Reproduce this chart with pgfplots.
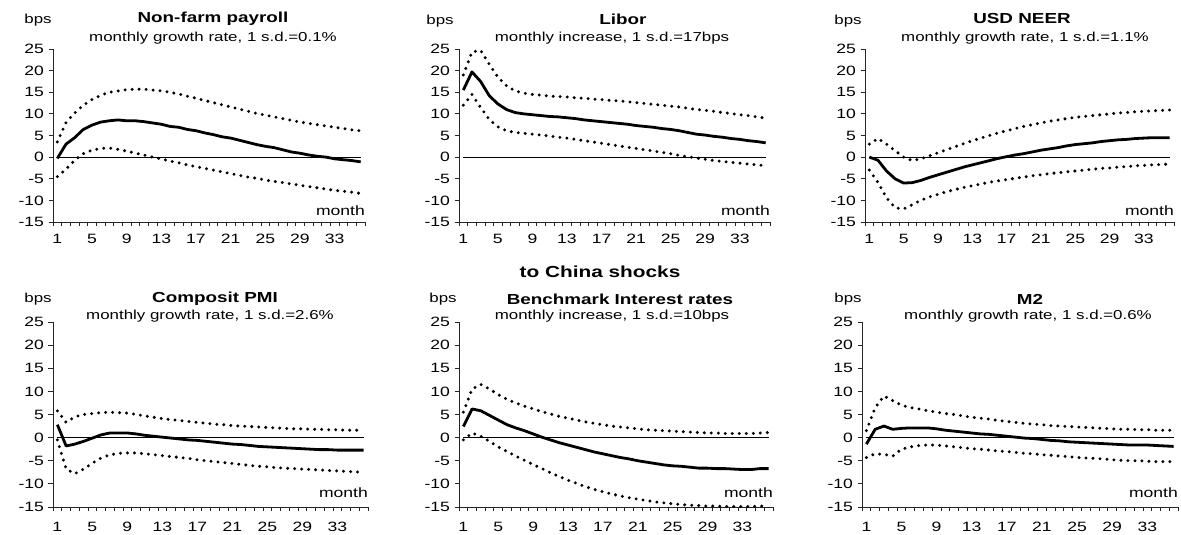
\documentclass[border=0pt]{standalone}
\usepackage{fontspec}
\setmainfont{Liberation Sans}[FakeStretch=1.3]
\usepackage{pgfplots}
\usepackage{pgfplotstable}
\pgfplotsset{compat=1.18}

% Non-farm payroll
\pgfplotstableread{
x m u l
1 -0.3 3.5 -4.5
2 3.0 8.0 -2.8
3 4.5 10.2 -0.7
4 6.4 12.0 0.8
5 7.4 13.3 1.6
6 8.1 14.3 2.0
7 8.4 15.0 2.1
8 8.6 15.3 1.8
9 8.4 15.6 1.4
10 8.4 15.7 0.9
11 8.2 15.7 0.5
12 7.9 15.5 0.0
13 7.6 15.3 -0.4
14 7.1 15.0 -0.9
15 6.9 14.6 -1.3
16 6.4 14.1 -1.8
17 6.1 13.6 -2.2
18 5.6 13.1 -2.6
19 5.2 12.6 -3.0
20 4.7 12.1 -3.4
21 4.4 11.6 -3.8
22 3.9 11.1 -4.2
23 3.4 10.6 -4.6
24 2.9 10.1 -4.9
25 2.5 9.7 -5.3
26 2.2 9.3 -5.6
27 1.7 8.9 -5.9
28 1.2 8.5 -6.2
29 0.9 8.1 -6.5
30 0.5 7.8 -6.8
31 0.2 7.5 -7.1
32 0.0 7.2 -7.4
33 -0.4 6.9 -7.7
34 -0.6 6.6 -7.9
35 -0.8 6.3 -8.1
36 -1.1 6.1 -8.4
}\tA

% Libor
\pgfplotstableread{
x m u l
1 15.5 19.0 12.0
2 19.7 24.3 14.5
3 17.5 24.7 11.5
4 14.2 21.5 8.7
5 12.3 18.5 7.0
6 11.0 16.5 6.1
7 10.3 15.3 5.7
8 10.0 14.8 5.5
9 9.8 14.5 5.3
10 9.6 14.3 5.1
11 9.4 14.1 4.9
12 9.3 14.0 4.6
13 9.1 13.9 4.4
14 8.9 13.7 4.1
15 8.6 13.6 3.8
16 8.4 13.4 3.5
17 8.2 13.3 3.2
18 8.0 13.1 2.9
19 7.8 13.0 2.6
20 7.6 12.8 2.3
21 7.3 12.6 2.0
22 7.1 12.4 1.7
23 6.9 12.2 1.4
24 6.6 12.0 1.1
25 6.4 11.8 0.8
26 6.1 11.6 0.4
27 5.7 11.3 0.1
28 5.3 11.0 -0.2
29 5.1 10.8 -0.5
30 4.8 10.6 -0.8
31 4.6 10.3 -1.0
32 4.3 10.1 -1.2
33 4.1 9.8 -1.4
34 3.8 9.6 -1.6
35 3.6 9.3 -1.8
36 3.3 9.0 -2.0
}\tB

% USD NEER
\pgfplotstableread{
x m u l
1 0.0 3.0 -3.0
2 -0.7 4.3 -5.8
3 -3.2 3.0 -9.4
4 -5.0 1.5 -11.7
5 -6.0 0.0 -12.0
6 -5.9 -0.8 -11.0
7 -5.4 -0.4 -10.0
8 -4.7 0.3 -9.2
9 -4.1 1.0 -8.6
10 -3.5 1.7 -8.0
11 -2.9 2.4 -7.5
12 -2.3 3.1 -7.0
13 -1.8 3.8 -6.6
14 -1.3 4.4 -6.2
15 -0.8 5.0 -5.8
16 -0.3 5.6 -5.5
17 0.1 6.1 -5.2
18 0.5 6.6 -4.9
19 0.8 7.1 -4.6
20 1.2 7.5 -4.3
21 1.6 7.9 -4.1
22 1.9 8.3 -3.8
23 2.2 8.6 -3.6
24 2.6 8.9 -3.4
25 2.9 9.2 -3.2
26 3.1 9.4 -3.0
27 3.3 9.6 -2.8
28 3.6 9.8 -2.6
29 3.8 10.0 -2.5
30 4.0 10.2 -2.3
31 4.1 10.3 -2.2
32 4.3 10.5 -2.0
33 4.4 10.6 -1.9
34 4.5 10.7 -1.8
35 4.5 10.8 -1.7
36 4.5 10.9 -1.6
}\tC

% Composit PMI
\pgfplotstableread{
x m u l
1 2.8 5.8 -0.5
2 -1.8 3.3 -6.8
3 -1.4 4.5 -7.8
4 -0.8 5.0 -6.8
5 -0.1 5.2 -5.5
6 0.6 5.4 -4.4
7 1.0 5.5 -3.7
8 1.0 5.4 -3.4
9 1.0 5.3 -3.3
10 0.8 5.0 -3.3
11 0.5 4.7 -3.5
12 0.3 4.4 -3.7
13 0.1 4.1 -3.9
14 -0.1 3.9 -4.1
15 -0.3 3.7 -4.3
16 -0.5 3.5 -4.5
17 -0.6 3.3 -4.8
18 -0.8 3.1 -5.0
19 -1.0 2.9 -5.2
20 -1.2 2.8 -5.4
21 -1.4 2.6 -5.6
22 -1.5 2.5 -5.8
23 -1.7 2.4 -6.0
24 -1.9 2.3 -6.2
25 -2.0 2.2 -6.3
26 -2.1 2.1 -6.5
27 -2.2 2.0 -6.6
28 -2.3 1.9 -6.7
29 -2.4 1.9 -6.8
30 -2.5 1.8 -6.9
31 -2.6 1.8 -7.0
32 -2.6 1.7 -7.1
33 -2.7 1.7 -7.2
34 -2.7 1.6 -7.3
35 -2.7 1.6 -7.4
36 -2.7 1.6 -7.5
}\tD

% Benchmark interest rates
\pgfplotstableread{
x m u l
1 2.4 5.5 -0.5
2 6.2 10.5 1.0
3 5.8 11.5 0.3
4 4.8 10.5 -0.8
5 3.8 9.3 -2.0
6 2.8 8.3 -3.0
7 2.1 7.5 -4.0
8 1.5 6.8 -4.9
9 0.8 6.2 -5.8
10 0.1 5.6 -6.7
11 -0.5 5.1 -7.6
12 -1.1 4.6 -8.4
13 -1.6 4.2 -9.2
14 -2.1 3.8 -9.9
15 -2.6 3.4 -10.6
16 -3.1 3.1 -11.2
17 -3.5 2.8 -11.7
18 -3.9 2.5 -12.2
19 -4.3 2.3 -12.6
20 -4.6 2.1 -13.0
21 -5.0 1.9 -13.3
22 -5.3 1.7 -13.6
23 -5.6 1.6 -13.9
24 -5.9 1.5 -14.1
25 -6.1 1.4 -14.3
26 -6.2 1.3 -14.5
27 -6.4 1.2 -14.6
28 -6.6 1.1 -14.7
29 -6.6 1.0 -14.8
30 -6.7 1.0 -14.8
31 -6.7 0.9 -14.9
32 -6.8 0.9 -14.9
33 -6.9 0.9 -14.9
34 -6.9 0.9 -14.9
35 -6.7 1.0 -14.8
36 -6.7 1.1 -14.8
}\tE

% M2
\pgfplotstableread{
x m u l
1 -1.4 1.5 -4.3
2 1.8 6.5 -3.5
3 2.5 9.0 -3.6
4 1.8 8.0 -4.0
5 2.0 7.0 -2.5
6 2.1 6.5 -2.0
7 2.1 6.2 -1.7
8 2.1 5.8 -1.6
9 1.9 5.5 -1.6
10 1.6 5.2 -1.8
11 1.4 5.0 -2.0
12 1.2 4.7 -2.2
13 1.0 4.4 -2.4
14 0.8 4.2 -2.5
15 0.7 4.0 -2.7
16 0.5 3.7 -2.9
17 0.3 3.5 -3.0
18 0.1 3.3 -3.2
19 -0.1 3.1 -3.4
20 -0.2 2.9 -3.5
21 -0.4 2.8 -3.7
22 -0.6 2.6 -3.8
23 -0.7 2.5 -4.0
24 -0.9 2.4 -4.1
25 -1.0 2.3 -4.3
26 -1.1 2.2 -4.4
27 -1.2 2.1 -4.5
28 -1.3 2.0 -4.6
29 -1.4 1.9 -4.8
30 -1.5 1.8 -4.9
31 -1.6 1.8 -5.0
32 -1.6 1.7 -5.0
33 -1.6 1.7 -5.1
34 -1.7 1.6 -5.2
35 -1.8 1.6 -5.2
36 -1.9 1.6 -5.2
}\tF

\pgfplotsset{
  irf/.style={
    scale only axis, anchor=south west, clip=false,
    xmin=0.5, xmax=36.5, ymin=-15, ymax=25,
    axis x line*=bottom, axis y line*=left,
    axis line style={line width=0.8pt, black!85, -},
    xtick={1,5,...,33},
    minor xtick={0.5,1.5,...,36.5},
    ytick={-15,-10,...,25},
    tick align=outside,
    major x tick style={draw=none},
    major tick length=4.5pt, minor tick length=4pt,
    every tick/.append style={black!85, line width=0.8pt},
    tick label style={font=\fontsize{13.5}{14}\selectfont},
    /pgf/number format/assume math mode=true,
    xticklabel style={anchor=north, yshift=-4pt},
    yticklabel style={anchor=east, xshift=-1pt},
  },
  row2/.style={xticklabel style={yshift=-3pt}},
  zl/.style={black, line width=0.8pt},
  ml/.style={black, line width=2.8pt, line join=round},
  dl/.style={black, line width=3.3pt, line cap=round, dash pattern=on 0pt off 7pt},
}

\newcommand{\tfont}{\fontsize{14.5}{16}\selectfont\bfseries}
\newcommand{\sfont}{\fontsize{13}{15}\selectfont}
\newcommand{\panel}[2]{%
  \addplot[zl] coordinates {(1,0) (36,0)};
  \addplot[dl] table[x=x,y=u] {#1};
  \addplot[dl] table[x=x,y=l] {#1};
  \addplot[ml] table[x=x,y=m] {#1};
  \node[anchor=base east, inner sep=0pt, font=\fontsize{13.5}{15}\selectfont] at (axis cs:36.5,#2) {month};
}

\begin{document}
\begin{tikzpicture}
\useasboundingbox (0,0) rectangle (1181pt,535pt);

% Row 1
\begin{axis}[irf, at={(53pt,313pt)}, width=312pt, height=173pt]
\panel{\tA}{-13.6}
\end{axis}
\begin{axis}[irf, at={(459pt,313pt)}, width=311pt, height=173pt]
\panel{\tB}{-13.6}
\end{axis}
\begin{axis}[irf, at={(865pt,313pt)}, width=309pt, height=173pt]
\panel{\tC}{-13.6}
\end{axis}

% Row 2
\begin{axis}[irf, row2, at={(53pt,28pt)}, width=315pt, height=185pt]
\panel{\tD}{-13.0}
\end{axis}
\begin{axis}[irf, row2, at={(459pt,28pt)}, width=314pt, height=185pt]
\panel{\tE}{-13.0}
\end{axis}
\begin{axis}[irf, row2, at={(862pt,28pt)}, width=316pt, height=185pt]
\panel{\tF}{-13.0}
\end{axis}

% Titles row 1
\node[font=\sfont] at (38pt,515pt) {bps};
\node[font=\tfont] at (213pt,516pt) {Non-farm payroll};
\node[font=\sfont] at (213pt,497pt) {monthly growth rate, 1 s.d.=0.1\%};
\node[font=\sfont] at (440pt,514pt) {bps};
\node[font=\tfont] at (623pt,516pt) {Libor};
\node[font=\sfont] at (612pt,497pt) {monthly increase, 1 s.d.=17bps};
\node[font=\sfont] at (848pt,514pt) {bps};
\node[font=\tfont] at (1022pt,516pt) {USD NEER};
\node[font=\sfont] at (1025pt,497pt) {monthly growth rate, 1 s.d.=1.1\%};

\node[font=\fontsize{16}{18}\selectfont\bfseries] at (600pt,263pt) {to China shocks};

% Titles row 2
\node[font=\sfont] at (38pt,236pt) {bps};
\node[font=\tfont] at (215pt,236pt) {Composit PMI};
\node[font=\sfont] at (210pt,219pt) {monthly growth rate, 1 s.d.=2.6\%};
\node[font=\sfont] at (443pt,236pt) {bps};
\node[font=\tfont] at (620pt,236pt) {Benchmark Interest rates};
\node[font=\sfont] at (612pt,219pt) {monthly increase, 1 s.d.=10bps};
\node[font=\sfont] at (848pt,236pt) {bps};
\node[font=\tfont] at (1030pt,236pt) {M2};
\node[font=\sfont] at (1028pt,219pt) {monthly growth rate, 1 s.d.=0.6\%};
\end{tikzpicture}
\end{document}
